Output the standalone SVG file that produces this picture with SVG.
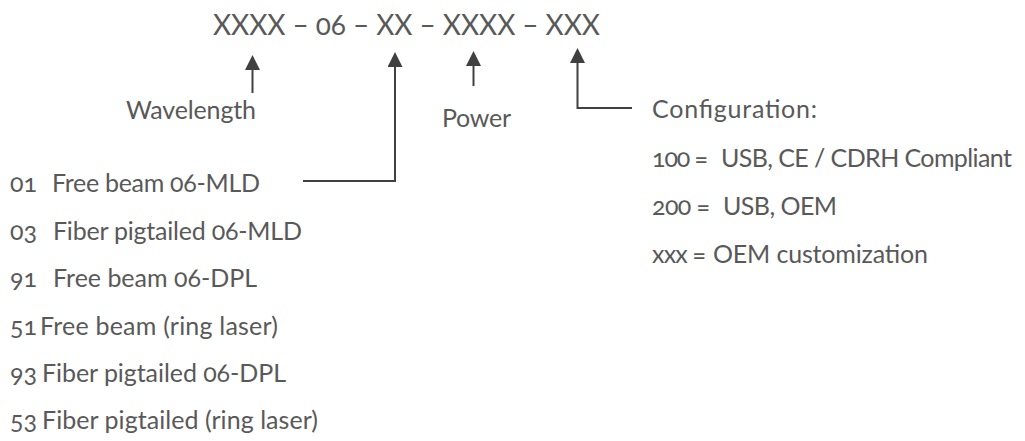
<svg xmlns="http://www.w3.org/2000/svg" width="1025" height="441" viewBox="0 0 1025 441">
<defs>
<style>
text{font-family:Lato,"Open Sans","Liberation Sans",sans-serif;fill:#595959;font-variant-numeric:oldstyle-nums;font-feature-settings:"onum" 1;}
.t{font-size:28px;}
.l{font-size:25px;}
.c{stroke:#404040;stroke-width:2;fill:none;}
</style>
<marker id="ah" viewBox="0 0 10 10" markerWidth="15" markerHeight="15" markerUnits="userSpaceOnUse" refX="2" refY="5" orient="auto">
<path d="M0,0 L10,5 L0,10 z" fill="#404040"/>
</marker>
</defs>
<rect width="1025" height="441" fill="#ffffff"/>
<g id="title"><text class="t" x="213" y="35" textLength="387" lengthAdjust="spacing">XXXX – 06 – XX – XXXX – XXX</text></g>
<g id="wavelength"><text class="l" x="126" y="119" textLength="130" lengthAdjust="spacing">Wavelength</text></g>
<g id="power"><text class="l" x="442" y="127" textLength="69" lengthAdjust="spacing">Power</text></g>
<g id="types">
<text class="l" x="10" y="192">01</text><text class="l" x="52" y="192" textLength="208" lengthAdjust="spacing">Free beam 06-MLD</text>
<text class="l" x="10" y="240">03</text><text class="l" x="53" y="240" textLength="249" lengthAdjust="spacing">Fiber pigtailed 06-MLD</text>
<text class="l" x="10" y="287">91</text><text class="l" x="53" y="287" textLength="204" lengthAdjust="spacing">Free beam 06-DPL</text>
<text class="l" x="10" y="335">51</text><text class="l" x="40" y="335" textLength="238" lengthAdjust="spacing">Free beam (ring laser)</text>
<text class="l" x="10" y="382">93</text><text class="l" x="42" y="382" textLength="244" lengthAdjust="spacing">Fiber pigtailed 06-DPL</text>
<text class="l" x="10" y="429">53</text><text class="l" x="42" y="429" textLength="276" lengthAdjust="spacing">Fiber pigtailed (ring laser)</text>
</g>
<g id="configuration">
<text class="l" x="652" y="118" textLength="165" lengthAdjust="spacing">Configuration:</text>
<text class="l" x="652" y="167" textLength="56" lengthAdjust="spacing">100 =</text><text class="l" x="721" y="167" textLength="291" lengthAdjust="spacing">USB, CE / CDRH Compliant</text>
<text class="l" x="652" y="215" textLength="58" lengthAdjust="spacing">200 =</text><text class="l" x="723" y="215" textLength="114" lengthAdjust="spacing">USB, OEM</text>
<text class="l" x="652" y="263" textLength="54" lengthAdjust="spacing">xxx =</text><text class="l" x="713" y="263" textLength="215" lengthAdjust="spacing">OEM customization</text>
</g>
<g id="connectors">
<line class="c" x1="252.5" y1="93" x2="252.5" y2="67" marker-end="url(#ah)"/>
<polyline class="c" points="303,181 395,181 395,64" marker-end="url(#ah)"/>
<line class="c" x1="473.5" y1="86" x2="473.5" y2="63" marker-end="url(#ah)"/>
<polyline class="c" points="632,108 577.5,108 577.5,60" marker-end="url(#ah)"/>
</g>
</svg>
